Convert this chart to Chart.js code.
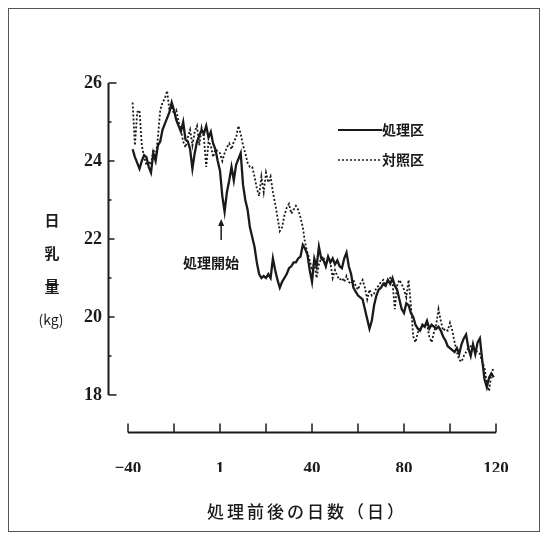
<!DOCTYPE html>
<html>
<head>
<meta charset="utf-8">
<script src="https://cdn.jsdelivr.net/npm/chart.js@4/dist/chart.umd.min.js"></script>
<style>
  html, body { margin: 0; padding: 0; background: #fff; }
  #wrap { width: 546px; height: 540px; }
</style>
</head>
<body>
<div id="wrap"><canvas id="c" width="546" height="540"></canvas></div>
<script>
// 日乳量 (kg), one value per day, starting at day -38
const firstDay = -38;

// 処理区 (solid)
const treated = [
  24.3, 24.1, 23.95, 23.8, 24.0, 24.15, 24.1, 23.85, 23.7, 24.2,
  24.0, 24.4, 24.5, 24.8, 24.95, 25.1, 25.25, 25.5, 25.3, 25.05,
  24.9, 24.75, 25.0, 24.55, 24.5, 24.3, 23.8, 24.2, 24.5, 24.65,
  24.8, 24.7, 24.9, 24.6, 24.75, 24.45, 24.3, 24.0, 23.75, 23.1,
  22.7, 23.2, 23.5, 23.85, 23.5, 23.9, 24.05, 24.2, 23.4, 23.0,
  22.75, 22.3, 22.05, 21.8, 21.4, 21.1, 21.0, 21.05, 21.0, 21.1,
  21.0, 21.5, 21.2, 20.95, 20.75, 20.9, 21.0, 21.1, 21.25, 21.3,
  21.4, 21.4, 21.5, 21.55, 21.85, 21.75, 21.6, 21.2, 20.9, 21.5,
  21.3, 21.8, 21.5, 21.45, 21.3, 21.55, 21.4, 21.5, 21.35, 21.45,
  21.3, 21.25, 21.5, 21.65, 21.3, 21.1, 20.75, 20.65, 20.55, 20.5,
  20.45, 20.2, 19.95, 19.7, 19.9, 20.3, 20.55, 20.7, 20.75, 20.85,
  20.8, 20.95, 20.85, 21.0, 20.8, 20.7, 20.45, 20.2, 20.1, 20.35,
  20.3, 20.1, 20.0, 19.8, 19.7, 19.65, 19.8, 19.75, 19.9, 19.7,
  19.8, 19.75, 19.7, 19.75, 19.65, 19.5, 19.4, 19.25, 19.2, 19.15,
  19.1, 19.2, 19.05, 19.3, 19.45, 19.55, 19.2, 19.0, 19.3, 19.05,
  19.35, 19.45, 18.9, 18.4, 18.2, 18.45, 18.55, 18.45
];

// 対照区 (dotted)
const control = [
  25.5, 24.4, 25.25, 25.3, 24.4, 24.1, 23.9, 24.0, 23.9, 24.3,
  24.1, 24.6, 25.3, 25.5, 25.6, 25.8, 25.3, 25.4, 25.2, 25.3,
  25.0, 24.8, 24.5, 24.35, 24.6, 24.8, 24.4, 24.75, 24.9, 24.4,
  24.85, 24.6, 23.85, 24.5, 24.4, 24.1, 24.3, 24.25, 24.2, 24.0,
  24.2, 24.35, 24.45, 24.3, 24.5, 24.6, 24.9, 24.7, 24.4, 24.2,
  23.95, 23.85, 23.85, 23.6, 23.3, 23.1, 23.6, 23.2, 23.7, 23.45,
  23.6, 23.2, 22.9, 22.55, 22.2, 22.3, 22.6, 22.8, 22.9, 22.65,
  22.75, 22.85, 22.75, 22.55, 22.3, 21.9, 21.65, 21.45, 21.2, 21.4,
  21.0, 21.35, 21.5, 21.55, 21.3, 21.5, 21.4, 21.0, 21.2, 21.05,
  20.95, 21.0, 20.9, 21.05, 20.9, 20.85, 20.95, 20.8, 20.7, 20.85,
  20.95, 20.75, 20.45, 20.7, 20.55, 20.6, 20.75, 20.8, 20.9, 20.95,
  20.8, 20.95, 21.0, 20.9, 20.2, 20.8, 20.95, 20.85, 20.7, 20.5,
  20.95, 20.3, 19.5, 19.35, 19.6, 19.7, 19.75, 19.8, 19.8, 19.5,
  19.35, 19.6, 19.8, 20.2, 19.9, 19.65, 19.7, 19.65, 19.85, 19.65,
  19.35, 19.1, 18.9, 18.85, 19.0, 19.1, 19.2, 19.25, 19.2, 19.15,
  19.1, 19.05, 18.85, 18.7, 18.3, 18.1, 18.55, 18.7
];

const xTicks = [-40, -20, 0, 20, 40, 60, 80, 100, 120];
const xTickLabels = { '-40': '\u221240', '0': '1', '40': '40', '80': '80', '120': '120' };
const yTicks = [18, 19, 20, 21, 22, 23, 24, 25, 26];
const yTickLabels = { '18': '18', '20': '20', '22': '22', '24': '24', '26': '26' };

const toPoints = (arr) => arr.map((v, i) => ({ x: firstDay + i, y: v }));

const ink = '#1a1a1a';
const cjk = '"Noto Sans CJK JP", sans-serif';

// axes, titles, legend and notes drawn like the printed figure
const paperPlugin = {
  id: 'paper',
  beforeDraw(chart) {
    const ctx = chart.ctx;
    ctx.save();
    ctx.fillStyle = '#fff';
    ctx.fillRect(0, 0, chart.width, chart.height);
    ctx.strokeStyle = '#555';
    ctx.lineWidth = 1;
    ctx.strokeRect(8.5, 8.5, 531, 523);
    ctx.restore();
  },
  afterDraw(chart) {
    const ctx = chart.ctx;
    const xs = chart.scales.x, ys = chart.scales.y;
    const area = chart.chartArea;
    ctx.save();
    ctx.strokeStyle = ink;
    ctx.fillStyle = ink;

    // y axis
    const ax = Math.round(area.left) + 0.5;
    ctx.lineWidth = 2;
    ctx.beginPath();
    ctx.moveTo(ax, ys.getPixelForValue(26));
    ctx.lineTo(ax, ys.getPixelForValue(18));
    ctx.stroke();
    ctx.lineWidth = 1.5;
    yTicks.forEach(v => {
      const y = ys.getPixelForValue(v);
      const len = (v === 18 || v === 26) ? 8 : (v % 2 === 0 ? 6 : 3);
      ctx.beginPath();
      ctx.moveTo(ax, y);
      ctx.lineTo(ax + len, y);
      ctx.stroke();
    });

    // x axis
    const ay = Math.round(area.bottom) + 0.5;
    ctx.lineWidth = 2;
    ctx.beginPath();
    ctx.moveTo(xs.getPixelForValue(-40), ay);
    ctx.lineTo(xs.getPixelForValue(120), ay);
    ctx.stroke();
    ctx.lineWidth = 1.5;
    xTicks.forEach(v => {
      const x = xs.getPixelForValue(v);
      ctx.beginPath();
      ctx.moveTo(x, ay);
      ctx.lineTo(x, ay - 9);
      ctx.stroke();
    });

    // y title, stacked
    ctx.textAlign = 'center';
    ctx.textBaseline = 'middle';
    ctx.font = 'bold 15px ' + cjk;
    ctx.fillText('日', 52, 220);
    ctx.fillText('乳', 52, 253);
    ctx.fillText('量', 52, 286);
    ctx.font = '14px ' + cjk;
    ctx.fillText('(kg)', 51, 320);

    // x title
    ctx.font = '500 17px ' + cjk;
    ctx.letterSpacing = '3px';
    ctx.fillText('処理前後の日数（日）', 307, 512);
    ctx.letterSpacing = '0px';

    // legend
    ctx.lineWidth = 2;
    ctx.beginPath();
    ctx.moveTo(338, 130);
    ctx.lineTo(382, 130);
    ctx.stroke();
    ctx.lineWidth = 1.5;
    ctx.setLineDash([2, 2]);
    ctx.beginPath();
    ctx.moveTo(338, 160);
    ctx.lineTo(382, 160);
    ctx.stroke();
    ctx.setLineDash([]);
    ctx.textAlign = 'left';
    ctx.font = 'bold 14px ' + cjk;
    ctx.fillText('処理区', 382, 130);
    ctx.fillText('対照区', 382, 160);

    // 処理開始 note with arrow
    const nx = xs.getPixelForValue(0.5);
    ctx.lineWidth = 1.5;
    ctx.beginPath();
    ctx.moveTo(nx, 240);
    ctx.lineTo(nx, 224);
    ctx.stroke();
    ctx.beginPath();
    ctx.moveTo(nx, 219);
    ctx.lineTo(nx - 3, 226);
    ctx.lineTo(nx + 3, 226);
    ctx.closePath();
    ctx.fill();
    ctx.textAlign = 'center';
    ctx.font = 'bold 14px ' + cjk;
    ctx.fillText('処理開始', 211, 263);

    ctx.restore();
  }
};

new Chart(document.getElementById('c'), {
  type: 'line',
  data: {
    datasets: [
      {
        label: '処理区',
        data: toPoints(treated),
        borderColor: ink,
        borderWidth: 2.3,
        pointRadius: 0,
        tension: 0
      },
      {
        label: '対照区',
        data: toPoints(control),
        borderColor: ink,
        borderWidth: 1.8,
        borderDash: [2, 2],
        pointRadius: 0,
        tension: 0
      }
    ]
  },
  options: {
    responsive: false,
    animation: false,
    layout: { padding: { left: 68, top: 83, right: 50, bottom: 68 } },
    plugins: { legend: { display: false }, tooltip: { enabled: false } },
    scales: {
      x: {
        type: 'linear',
        min: -48.7,
        max: 120,
        afterBuildTicks: (s) => { s.ticks = xTicks.map(v => ({ value: v })); },
        afterFit: (s) => { s.height = 40; },
        grid: { display: false, drawTicks: false },
        border: { display: false },
        ticks: {
          autoSkip: false,
          maxRotation: 0,
          padding: 26,
          color: ink,
          font: { family: '"Liberation Serif", serif', size: 17, weight: 'bold' },
          callback: (v) => xTickLabels[String(v)] || ''
        }
      },
      y: {
        min: 17.05,
        max: 26,
        afterBuildTicks: (s) => { s.ticks = yTicks.map(v => ({ value: v })); },
        afterFit: (s) => { s.width = 40; },
        grid: { display: false, drawTicks: false },
        border: { display: false },
        ticks: {
          autoSkip: false,
          padding: 6,
          color: ink,
          font: { family: '"Liberation Serif", serif', size: 18, weight: 'bold' },
          callback: (v) => yTickLabels[String(v)] || ''
        }
      }
    }
  },
  plugins: [paperPlugin]
});
</script>
</body>
</html>
